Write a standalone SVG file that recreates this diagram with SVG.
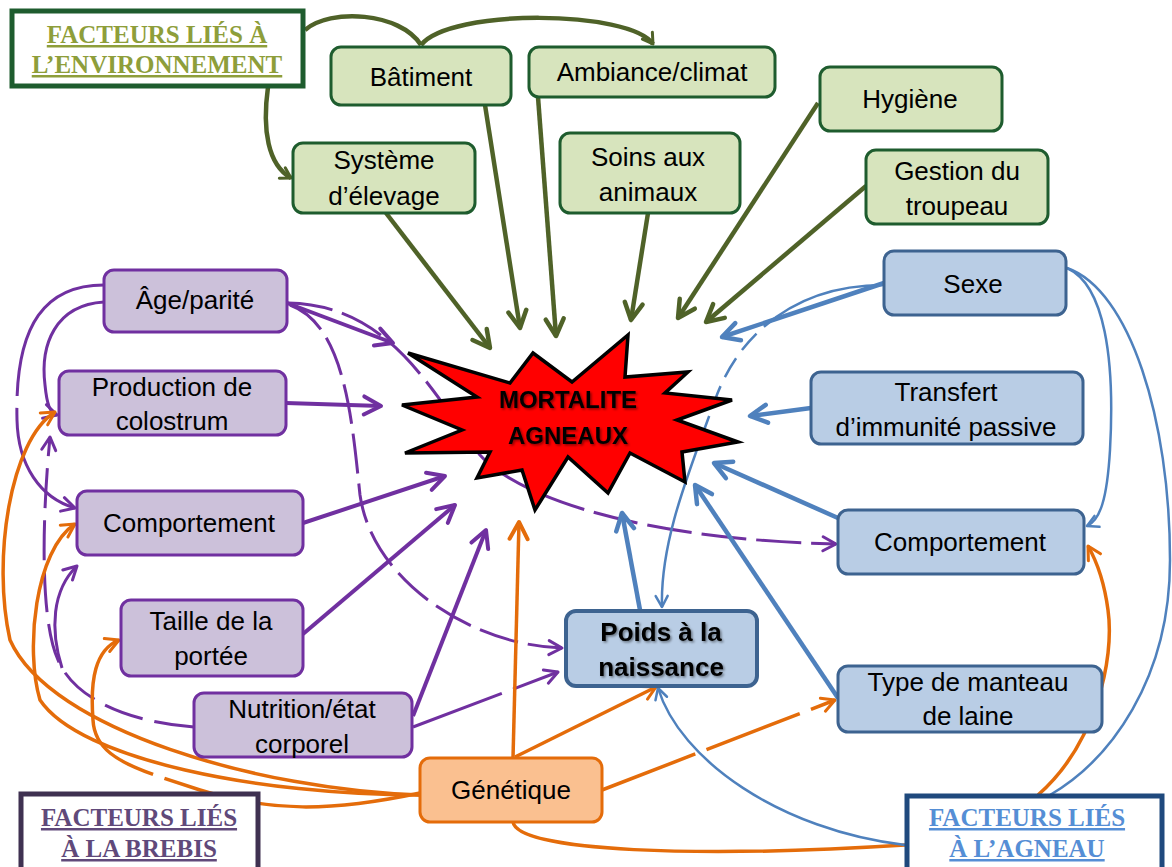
<svg xmlns="http://www.w3.org/2000/svg" width="1172" height="867" viewBox="0 0 1172 867">
<style>
text{font-family:"Liberation Sans",Arial,sans-serif;font-size:26px;text-anchor:middle;fill:#000}
.t{font-family:"Liberation Serif","Times New Roman",serif;font-size:25px;font-weight:bold;text-decoration:underline}
.gn rect{fill:#d7e4bd;stroke:#1e5c2e;stroke-width:3}
.pn rect{fill:#ccc1da;stroke:#7030a0;stroke-width:3}
.bn rect{fill:#b9cde5;stroke:#3d6390;stroke-width:3}
.on rect{fill:#fac090;stroke:#e46c0a;stroke-width:3}
.cg{fill:none;stroke:#4f6228;stroke-width:4.5}
.cp{fill:none;stroke:#7030a0;stroke-width:4}
.cps{fill:none;stroke:#7030a0;stroke-width:3}
.cb{fill:none;stroke:#4f81bd;stroke-width:4.5}
.cbs{fill:none;stroke:#4f81bd;stroke-width:2.5}
.co{fill:none;stroke:#e46c0a;stroke-width:3.5}
</style>
<defs>
<marker id="gB" markerUnits="userSpaceOnUse" viewBox="0 0 24 24" refX="21" refY="12" markerWidth="24" markerHeight="24" orient="auto"><path d="M4,3 L21,12 L4,21" fill="none" stroke="#4f6228" stroke-width="4.5" stroke-linecap="round" stroke-linejoin="round"/></marker>
<marker id="gS" markerUnits="userSpaceOnUse" viewBox="0 0 16 16" refX="14" refY="8" markerWidth="16" markerHeight="16" orient="auto"><path d="M4,2 L14,8 L4,14" fill="none" stroke="#4f6228" stroke-width="3" stroke-linecap="round" stroke-linejoin="round"/></marker>
<marker id="pB" markerUnits="userSpaceOnUse" viewBox="0 0 24 24" refX="21" refY="12" markerWidth="24" markerHeight="24" orient="auto"><path d="M4,3 L21,12 L4,21" fill="none" stroke="#7030a0" stroke-width="4" stroke-linecap="round" stroke-linejoin="round"/></marker>
<marker id="pS" markerUnits="userSpaceOnUse" viewBox="0 0 20 20" refX="17" refY="10" markerWidth="20" markerHeight="20" orient="auto"><path d="M4,3 L17,10 L4,17" fill="none" stroke="#7030a0" stroke-width="3" stroke-linecap="round" stroke-linejoin="round"/></marker>
<marker id="bB" markerUnits="userSpaceOnUse" viewBox="0 0 24 24" refX="21" refY="12" markerWidth="24" markerHeight="24" orient="auto"><path d="M4,3 L21,12 L4,21" fill="none" stroke="#4f81bd" stroke-width="4.5" stroke-linecap="round" stroke-linejoin="round"/></marker>
<marker id="bS" markerUnits="userSpaceOnUse" viewBox="0 0 18 18" refX="15" refY="9" markerWidth="18" markerHeight="18" orient="auto"><path d="M4,3 L15,9 L4,15" fill="none" stroke="#4f81bd" stroke-width="2.5" stroke-linecap="round" stroke-linejoin="round"/></marker>
<marker id="oB" markerUnits="userSpaceOnUse" viewBox="0 0 24 24" refX="21" refY="12" markerWidth="24" markerHeight="24" orient="auto"><path d="M4,3 L21,12 L4,21" fill="none" stroke="#e46c0a" stroke-width="4" stroke-linecap="round" stroke-linejoin="round"/></marker>
<marker id="oS" markerUnits="userSpaceOnUse" viewBox="0 0 20 20" refX="17" refY="10" markerWidth="20" markerHeight="20" orient="auto"><path d="M4,3 L17,10 L4,17" fill="none" stroke="#e46c0a" stroke-width="3" stroke-linecap="round" stroke-linejoin="round"/></marker>
<filter id="sh" x="-10%" y="-10%" width="120%" height="130%"><feDropShadow dx="1.5" dy="1.5" stdDeviation="1" flood-color="#000" flood-opacity="0.45"/></filter>
</defs>
<rect width="1172" height="867" fill="#fff"/>

<g id="connectors">
<!-- green -->
<path class="cg" d="M305,30 C330,8 400,12 421,45"/>
<path class="cg" d="M421,45 C450,8 630,10 653,44" marker-end="url(#gS)"/>
<path class="cg" d="M268,87 C262,130 268,165 291,178" marker-end="url(#gS)"/>
<path class="cg" d="M386,213 L490,348" marker-end="url(#gB)"/>
<path class="cg" d="M485,105 L520,328" marker-end="url(#gB)"/>
<path class="cg" d="M538,97 L556,336" marker-end="url(#gB)"/>
<path class="cg" d="M648,213 L631,320" marker-end="url(#gB)"/>
<path class="cg" d="M818,103 L678,318" marker-end="url(#gB)"/>
<path class="cg" d="M866,186 L706,322" marker-end="url(#gB)"/>
<!-- purple -->
<path class="cp" d="M287,303 L393,343" marker-end="url(#pB)"/>
<path class="cp" d="M286,403 L381,406" marker-end="url(#pB)"/>
<path class="cp" d="M303,523 L445,476" marker-end="url(#pB)"/>
<path class="cp" d="M303,634 L455,505" marker-end="url(#pB)"/>
<path class="cp" d="M413,716 L486,530" marker-end="url(#pB)"/>
<path class="cps" d="M288,303 C390,305 430,390 480,455 C520,500 650,540 836,544" stroke-dasharray="45 10" marker-end="url(#pS)"/>
<path class="cps" d="M290,305 C345,325 352,420 360,495 C372,580 470,645 562,648" stroke-dasharray="40 10" marker-end="url(#pS)"/>
<path class="cps" d="M413,727 L558,672" stroke-dasharray="95 12" marker-end="url(#pS)"/>
<path class="cps" d="M104,285 C35,285 15,340 17,420 C18,465 40,498 75,508" stroke-dasharray="160 12" marker-end="url(#pS)"/>
<path class="cps" d="M104,302 C55,305 40,345 45,385 C47,405 50,413 57,415" marker-end="url(#pS)"/>
<path class="cps" d="M194,727 C130,722 75,700 58,660 C40,620 42,520 50,437" stroke-dasharray="40 12" marker-end="url(#pS)"/>
<path class="cps" d="M62,668 C50,630 52,590 77,566" marker-end="url(#pS)"/>
<!-- orange -->
<path class="co" d="M513,758 L519,522" stroke-width="4" marker-end="url(#oB)"/>
<path class="co" d="M515,757 L656,687" marker-end="url(#oS)"/>
<path class="co" d="M602,790 L835,700" stroke-dasharray="100 12" marker-end="url(#oS)"/>
<path class="co" d="M513,822 C518,852 700,858 905,845"/>
<path class="co" d="M1038,795 C1095,745 1115,660 1108,610 C1104,580 1096,560 1088,546" stroke-width="3" marker-end="url(#oS)"/>
<path class="co" d="M420,795 C260,790 50,730 10,640 C-8,560 10,440 55,412" stroke-width="3" marker-end="url(#oS)"/>
<path class="co" d="M420,795 C260,795 80,760 40,700 C25,650 35,550 75,524" stroke-width="3" marker-end="url(#oS)"/>
<path class="co" d="M420,793 C330,812 270,812 200,790 C140,770 95,760 93,720 C90,680 95,650 119,640" stroke-width="3" stroke-dasharray="260 12" marker-end="url(#oS)"/>
<!-- blue -->
<path class="cb" d="M884,283 L722,337" marker-end="url(#bB)"/>
<path class="cb" d="M811,408 L750,416" marker-end="url(#bB)"/>
<path class="cb" d="M838,518 L714,463" marker-end="url(#bB)"/>
<path class="cb" d="M838,698 L695,485" marker-end="url(#bB)"/>
<path class="cb" d="M640,610 L622,513" marker-end="url(#bB)"/>
<path class="cbs" d="M884,285 C800,285 740,330 715,400 C690,470 660,540 662,607" stroke-dasharray="130 10 22 10 22 10 22 10 200" marker-end="url(#bS)"/>
<path class="cbs" d="M1067,268 C1105,285 1115,360 1110,450 C1107,500 1100,520 1087,526" marker-end="url(#bS)"/>
<path class="cbs" d="M1067,268 C1130,290 1170,420 1170,560 C1170,680 1110,760 1050,795"/>
<path class="cbs" d="M905,845 C780,830 680,760 658,688" marker-end="url(#bS)"/>
</g>

<g id="mortalite">
<polygon points="408,353 510,383 533,353 572,382 628,335 625,377 688,372 665,393 732,400 677,420 738,442 682,452 685,482 630,453 608,493 568,457 535,510 522,470 477,478 490,452 405,453 462,430 402,405 477,397" fill="#ff0000" stroke="#000" stroke-width="3.5" stroke-linejoin="miter"/>
<g filter="url(#sh)" font-weight="bold">
<text x="568" y="408" style="font-size:24px;font-weight:bold">MORTALITE</text>
<text x="568" y="444" style="font-size:24px;font-weight:bold">AGNEAUX</text>
</g>
</g>

<g id="titre-environnement">
<rect x="12" y="11" width="291" height="75" fill="#fff" stroke="#1e5c2e" stroke-width="5"/>
<text class="t" x="157" y="43" fill="#8e9e3a" style="fill:#8e9e3a">FACTEURS LIÉS À</text>
<text class="t" x="157" y="73" style="fill:#8e9e3a">L’ENVIRONNEMENT</text>
</g>
<g id="titre-brebis">
<rect x="21" y="794" width="237" height="85" fill="#fff" stroke="#3f3151" stroke-width="5"/>
<text class="t" x="139" y="826" style="fill:#60497a">FACTEURS LIÉS</text>
<text class="t" x="139" y="857" style="fill:#60497a">À LA BREBIS</text>
</g>
<g id="titre-agneau">
<rect x="907" y="796" width="255" height="85" fill="#fff" stroke="#1f497d" stroke-width="5"/>
<text class="t" x="1027" y="826" style="fill:#558ed5">FACTEURS LIÉS</text>
<text class="t" x="1027" y="857" style="fill:#558ed5">À L’AGNEAU</text>
</g>

<g id="batiment" class="gn"><rect x="331" y="47" width="180" height="58" rx="10"/><text x="421" y="86">Bâtiment</text></g>
<g id="ambiance" class="gn"><rect x="529" y="47" width="246" height="50" rx="10"/><text x="652" y="81">Ambiance/climat</text></g>
<g id="hygiene" class="gn"><rect x="820" y="67" width="182" height="64" rx="10"/><text x="910" y="108">Hygiène</text></g>
<g id="systeme" class="gn"><rect x="293" y="143" width="182" height="70" rx="10"/><text x="384" y="169">Système</text><text x="384" y="205">d’élevage</text></g>
<g id="soins" class="gn"><rect x="560" y="133" width="180" height="80" rx="10"/><text x="648" y="166">Soins aux</text><text x="648" y="201">animaux</text></g>
<g id="gestion" class="gn"><rect x="866" y="150" width="182" height="74" rx="10"/><text x="957" y="180">Gestion du</text><text x="957" y="215">troupeau</text></g>

<g id="age" class="pn"><rect x="104" y="270" width="183" height="62" rx="10"/><text x="195" y="309">Âge/parité</text></g>
<g id="colostrum" class="pn"><rect x="59" y="371" width="227" height="64" rx="10"/><text x="172" y="396">Production de</text><text x="172" y="430">colostrum</text></g>
<g id="comportement-brebis" class="pn"><rect x="77" y="491" width="226" height="64" rx="10"/><text x="189" y="532">Comportement</text></g>
<g id="taille" class="pn"><rect x="121" y="600" width="182" height="76" rx="10"/><text x="211" y="630">Taille de la</text><text x="211" y="665">portée</text></g>
<g id="nutrition" class="pn"><rect x="194" y="693" width="218" height="64" rx="10"/><text x="302" y="718">Nutrition/état</text><text x="302" y="753">corporel</text></g>

<g id="sexe" class="bn"><rect x="884" y="251" width="182" height="64" rx="10"/><text x="973" y="293">Sexe</text></g>
<g id="transfert" class="bn"><rect x="811" y="372" width="272" height="72" rx="10"/><text x="946" y="401">Transfert</text><text x="946" y="436">d’immunité passive</text></g>
<g id="comportement-agneau" class="bn"><rect x="838" y="510" width="246" height="64" rx="10"/><text x="960" y="551">Comportement</text></g>
<g id="poids" class="bn"><rect x="566" y="611" width="191" height="75" rx="10" style="stroke-width:4"/><g filter="url(#sh)"><text x="661" y="641" style="font-weight:bold">Poids à la</text><text x="661" y="676" style="font-weight:bold">naissance</text></g></g>
<g id="manteau" class="bn"><rect x="838" y="666" width="264" height="66" rx="10"/><text x="968" y="691">Type de manteau</text><text x="968" y="725">de laine</text></g>

<g id="genetique" class="on"><rect x="420" y="758" width="182" height="64" rx="10"/><text x="511" y="799">Génétique</text></g>
</svg>
